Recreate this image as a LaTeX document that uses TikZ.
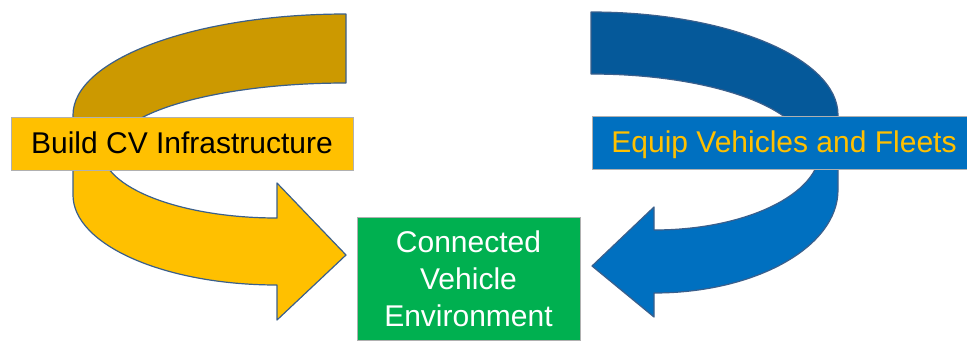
\documentclass[tikz,border=0pt]{standalone}
\usepackage{fontspec}
\setmainfont{Liberation Sans}
\definecolor{goldD}{HTML}{CC9900}
\definecolor{goldL}{HTML}{FFC000}
\definecolor{blueD}{HTML}{05599A}
\definecolor{blueL}{HTML}{0070C0}
\definecolor{envgreen}{HTML}{00B050}
\definecolor{outl}{HTML}{3A5F8C}
\definecolor{boxedge}{HTML}{B0B0B0}
\begin{document}
\begin{tikzpicture}[x=1pt,y=-1pt,
  arrowline/.style={draw=outl, line width=1.2pt, line join=round},
  lbl/.style={font=\fontsize{30}{37}\selectfont, inner sep=0pt, draw=boxedge, line width=0.6pt}]
\useasboundingbox (0,0) rectangle (967,341);
% left curved arrow (back half, dark gold)
\path[arrowline, fill=goldD] (346,14)
  arc[start angle=270, end angle=180, x radius=273, y radius=101]
  -- (73,150) -- (113,150)
  arc[start angle=180, end angle=270, x radius=233, y radius=67]
  -- cycle;
% left curved arrow (front half, yellow)
\path[arrowline, fill=goldL] (73,140) -- (73,195)
  arc[start angle=180, end angle=90, x radius=204, y radius=90]
  -- (277,320) -- (346,255) -- (277,183) -- (277,218)
  arc[start angle=90, end angle=180, x radius=175, y radius=68]
  -- (102,140) -- cycle;
% right curved arrow (back half, dark blue)
\path[arrowline, fill=blueD] (591,12)
  arc[start angle=270, end angle=360, x radius=247, y radius=103]
  -- (838,150) -- (806,150)
  arc[start angle=0, end angle=-90, x radius=215, y radius=76]
  -- cycle;
% right curved arrow (front half, blue)
\path[arrowline, fill=blueL] (838,140) -- (838,190)
  arc[start angle=0, end angle=90, x radius=184, y radius=103]
  -- (654,317) -- (592,266) -- (654,207) -- (654,230)
  arc[start angle=90, end angle=0, x radius=166, y radius=80]
  -- (820,140) -- cycle;
% labels
\node[lbl, fill=goldL, text=black, minimum width=342pt, minimum height=53pt,
      text height=20pt, text depth=0pt] (build) at (182,143.5) {Build CV Infrastructure};
\node[lbl, fill=blueL, text=goldL, minimum width=375pt, minimum height=53pt,
      text height=20pt, text depth=0pt] (equip) at (779.5,142.5) {\hspace*{9pt}Equip Vehicles and Fleets};
\node[lbl, fill=envgreen, text=white, minimum width=223pt, minimum height=123pt,
      align=center] (env) at (468.5,278.5) {Connected\\Vehicle\\Environment};
\end{tikzpicture}
\end{document}
